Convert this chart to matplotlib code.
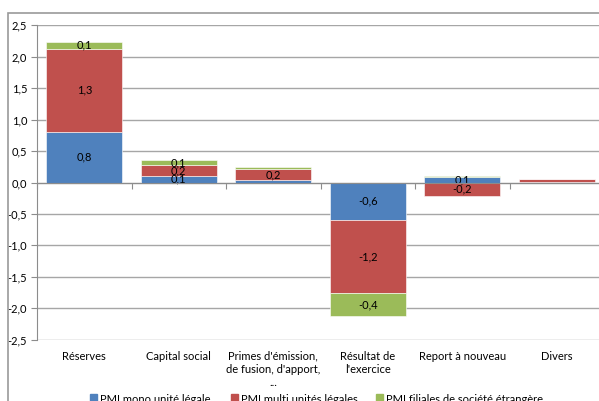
import matplotlib
matplotlib.use("Agg")
import matplotlib.pyplot as plt
import matplotlib.patches as mpatches
import numpy as np

plt.rcParams['font.family'] = ['Lato', 'DejaVu Sans']

categories = ["Réserves", "Capital social", "Primes d'émission,\nde fusion, d'apport,\n...",
              "Résultat de\nl'exercice", "Report à nouveau", "Divers"]
series_names = ["PMI mono unité légale", "PMI multi unités légales", "PMI filiales de société étrangère"]
mono = [0.80, 0.10, 0.04, -0.60, 0.08, 0.015]
multi = [1.33, 0.18, 0.17, -1.16, -0.22, 0.035]
filiales = [0.10, 0.075, 0.03, -0.37, 0.03, 0.006]
yticks = [2.5, 2.0, 1.5, 1.0, 0.5, 0.0, -0.5, -1.0, -1.5, -2.0, -2.5]
colors = ["#4F81BD", "#C0504D", "#9BBB59"]

W, H = 599, 401
fig = plt.figure(figsize=(W / 100, H / 100), dpi=100)

# outer chart frame
fig.patches.append(mpatches.Rectangle((8 / W, -0.1), 1.2, 1 - 13 / H + 0.1,
                                      transform=fig.transFigure, fill=False,
                                      edgecolor="#9a9a9a", linewidth=1.2))

left, right, top, bottom = 37, 604, 25.3, 339.7
ax = fig.add_axes([left / W, 1 - bottom / H, (right - left) / W, (bottom - top) / H])

x = np.arange(len(categories))
bw = 0.8
pos_base = np.zeros(len(categories))
neg_base = np.zeros(len(categories))
for vals, col in zip([mono, multi, filiales], colors):
    vals = np.array(vals)
    base = np.where(vals >= 0, pos_base, neg_base)
    ax.bar(x, vals, bw, bottom=base, color=col, edgecolor="white", linewidth=0.4, zorder=3)
    for xi, b, v in zip(x, base, vals):
        if abs(v) >= 0.05:
            ax.text(xi, b + v / 2, f"{v:.1f}".replace(".", ","), ha="center", va="center",
                    fontsize=8, color="black", zorder=4)
    pos_base = pos_base + np.where(vals >= 0, vals, 0)
    neg_base = neg_base + np.where(vals < 0, vals, 0)

ax.set_xlim(-0.5, len(categories) - 0.5)
ax.set_ylim(-2.5, 2.5)
ax.set_yticks(yticks)
ax.set_yticklabels([f"{t:.1f}".replace(".", ",") for t in yticks], fontsize=8)
ax.grid(axis="y", color="#a6a6a6", linewidth=1, zorder=0)
ax.set_axisbelow(True)
for s in ["top", "right"]:
    ax.spines[s].set_visible(False)
ax.spines["left"].set_color("#8c8c8c")
ax.spines["bottom"].set_position(("data", 0))
ax.spines["bottom"].set_color("#8c8c8c")
ax.spines["bottom"].set_zorder(5)
ax.set_xticks(np.arange(len(categories) + 1) - 0.5)
ax.set_xticklabels([])
ax.tick_params(axis="x", length=4, color="#8c8c8c", direction="out")
ax.tick_params(axis="y", length=4, color="#8c8c8c", pad=3)

for xi, c in zip(x, categories):
    ax.text(xi, -0.035, c, transform=ax.get_xaxis_transform(), ha="center", va="top",
            fontsize=8, linespacing=1.25)

# legend (cut off at bottom, as in the source)
leg_x = [90, 231, 376]
for lx, name, col in zip(leg_x, series_names, colors):
    fig.patches.append(mpatches.Rectangle((lx / W, 1 - 401 / H), 7 / W, 7 / H,
                                          transform=fig.transFigure, color=col))
    fig.text((lx + 10) / W, 1 - 399.5 / H, name, ha="left", va="center", fontsize=8)

fig.savefig("out.png", dpi=100)
